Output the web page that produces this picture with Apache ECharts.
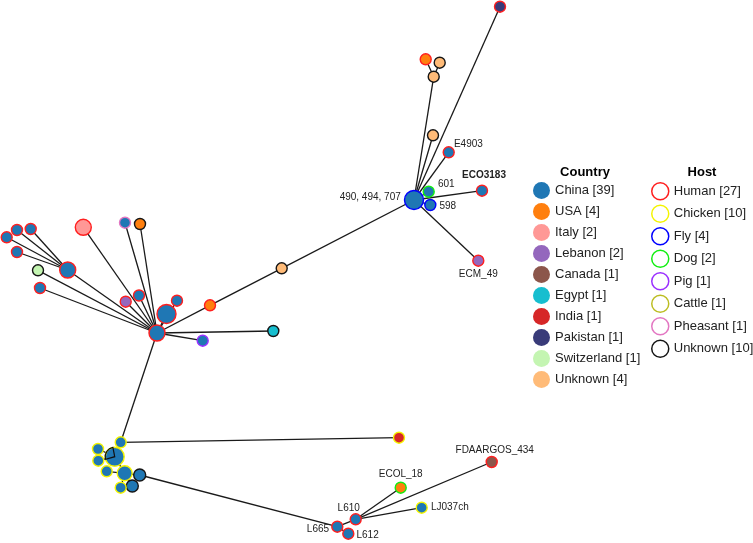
<!DOCTYPE html>
<html><head><meta charset="utf-8">
<script src="https://cdn.jsdelivr.net/npm/echarts@6/dist/echarts.min.js"></script>
<style>html,body{margin:0;padding:0;background:#fff}#c{width:753px;height:543px}</style>
</head><body><div id="c"></div>
<script>
// ---- data ----
const countryNames = ['China','USA','Italy','Lebanon','Canada','Egypt','India','Pakistan','Switzerland','Unknown'];
const countryCounts = [39,4,2,2,1,1,1,1,1,4];
const hostNames = ['Human','Chicken','Fly','Dog','Pig','Cattle','Pheasant','Unknown'];
const hostCounts = [27,10,4,2,1,1,1,10];

const nodeIds = ['n1','n2','n3','n4','n5','n6','n7','n8','n9','n10','n11','n12','n13','n14','n15','n16','n17','n18','n19','n20','n21','n22','n23','n24','n25','n26','n27','n28','n29','n30','n31','n32','n33','n34','n35','n36','n37','n38','n39','n40','n41','n42','n43','n44','n45','n46'];
const nodeX = [157,166.5,177,139,125.7,202.7,210,273.3,281.7,67.7,6.7,17,30.7,17,38,40,83.3,125,140,414,428.7,430.3,482,448.7,433,433.7,439.7,425.7,500,478.3,120.7,114.7,98,98.3,106.7,124.7,139.7,132.3,120.7,399,337.3,348.3,355.7,400.7,421.7,491.7];
const nodeY = [333,314,300.7,295.5,301.7,340.7,305.3,331,268.3,270,237.3,230,229,252,270.3,288,227.3,222.7,224,200,191.7,205,190.7,152.3,135.3,76.7,62.7,59.3,6.7,260.7,442.3,456.7,449,460.7,471.3,473.3,475,486,487.7,437.7,526.7,533.7,519.3,487.7,507.7,462];
const nodeCountry = ['China','China','China','China','Lebanon','China','USA','Egypt','Unknown','China','China','China','China','China','Switzerland','China','Italy','China','USA','China','China','China','China','China','Unknown','Unknown','Unknown','USA','Pakistan','Lebanon','China','China','China','China','China','China','China','China','China','India','China','China','China','USA','China','Canada'];
const nodeHost = ['Human','Human','Human','Human','Human','Pig','Human','Unknown','Unknown','Human','Human','Human','Human','Human','Unknown','Human','Human','Pheasant','Unknown','Fly','Dog','Fly','Human','Human','Unknown','Unknown','Unknown','Human','Human','Human','Chicken','Chicken','Chicken','Chicken','Chicken','Chicken','Unknown','Unknown','Chicken','Chicken','Human','Human','Human','Dog','Chicken','Human'];
const nodeLabel = ['','','','','','','','','','','','','','','','','','','','490, 494, 707','601','598','ECO3183','E4903','','','','','','ECM_49','','','','','','','','','','','L665','L612','L610','ECOL_18','LJ037ch','FDAARGOS_434'];
const edges = [
 ['n1','n2'],['n1','n3'],['n1','n4'],['n1','n5'],['n1','n6'],['n1','n7'],['n1','n8'],['n1','n10'],['n1','n15'],['n1','n16'],['n1','n17'],['n1','n18'],['n1','n19'],['n1','n31'],
 ['n10','n11'],['n10','n12'],['n10','n13'],['n10','n14'],
 ['n7','n9'],['n9','n20'],
 ['n20','n21'],['n20','n22'],['n20','n23'],['n20','n24'],['n20','n25'],['n20','n26'],['n20','n29'],['n20','n30'],
 ['n26','n27'],['n26','n28'],
 ['n31','n32'],['n31','n40'],['n32','n33'],['n32','n34'],['n32','n36'],['n36','n35'],['n36','n39'],['n36','n37'],['n36','n38'],['n37','n41'],
 ['n41','n42'],['n41','n43'],['n43','n44'],['n43','n45'],['n43','n46']
];

// ---- styles ----
const countryColors = {China:'#1f77b4',USA:'#ff7f0e',Italy:'#ff9896',Lebanon:'#9467bd',Canada:'#8c564b',Egypt:'#17becf',India:'#d62728',Pakistan:'#393b79',Switzerland:'#c4f5b2',Unknown:'#ffbb78'};
const hostColors = {Human:'#ff1f1f',Chicken:'#f4f400',Fly:'#0000ff',Dog:'#11ee11',Pig:'#9b30ff',Cattle:'#bcbd22',Pheasant:'#e377c2',Unknown:'#151515'};
const sizeMap = {n1:16,n2:19,n10:16,n17:16,n20:19,n32:19,n36:15,n37:12,n38:12};
const labelMap = {
 n20:{position:'left',distance:3,offset:[0,-3]},
 n21:{position:'right',distance:3,offset:[0,-7]},
 n22:{position:'right',distance:3,offset:[0,1]},
 n23:{position:'top',distance:4,fontWeight:'bold',offset:[2,0]},
 n24:{position:'right',distance:5,offset:[-6,-8]},
 n30:{position:'bottom',distance:2},
 n41:{position:'left',distance:2,offset:[0,3]},
 n42:{position:'right',distance:2,offset:[0,2]},
 n43:{position:'top',distance:0,offset:[-7,0]},
 n44:{position:'top',distance:2},
 n45:{position:'right',distance:3},
 n46:{position:'top',distance:1,offset:[3,0]}
};
const FONT = 'Liberation Sans, Arial, sans-serif';

const graphData = nodeIds.map((id,i)=>{
  const d = {
    name:id, value:[nodeX[i],nodeY[i]], symbol:'circle', symbolSize:sizeMap[id]||11,
    itemStyle:{color:countryColors[nodeCountry[i]], borderColor:hostColors[nodeHost[i]], borderWidth:1.4, opacity:1}
  };
  if (nodeLabel[i]) {
    const lm = labelMap[id]||{};
    d.label = Object.assign({show:true, formatter:nodeLabel[i], fontSize:10, color:'#222', fontFamily:FONT}, lm);
  }
  return d;
});
// wedge outline on the mixed-host node (n32)
const pieIdx = nodeIds.indexOf('n32');
graphData.push({
  name:'n32_wedge', value:[nodeX[pieIdx],nodeY[pieIdx]], symbolSize:19,
  symbol:'path://M0,0M100,100M50,50L40.5,0.9A50,50,0,0,0,1.9,63.8Z',
  itemStyle:{color:'rgba(0,0,0,0)', borderColor:'#111', borderWidth:1.2}
});

const series = [{
  type:'graph', coordinateSystem:'cartesian2d', silent:true,
  data:graphData,
  links:edges.map(e=>({source:e[0],target:e[1]})),
  lineStyle:{color:'#1a1a1a', width:1.3, opacity:1, curveness:0},
  emphasis:{disabled:true}, z:2
}];
countryNames.forEach((n,i)=>series.push({type:'scatter', name:n+' ['+countryCounts[i]+']', data:[], itemStyle:{color:countryColors[n], opacity:1}}));
hostNames.forEach((n,i)=>series.push({type:'scatter', name:n+' ['+hostCounts[i]+'] ', data:[], itemStyle:{color:'#fff', borderColor:hostColors[n], borderWidth:1.5, opacity:1}}));

const legendCommon = {orient:'vertical', top:182, itemWidth:17, itemHeight:17, itemGap:4, icon:'circle', selectedMode:false, padding:0,
  textStyle:{fontSize:13, color:'#222', fontFamily:FONT}};

const option = {
  animation:false,
  grid:{left:0,right:0,top:0,bottom:0},
  xAxis:{type:'value', min:0, max:753, show:false},
  yAxis:{type:'value', min:0, max:543, inverse:true, show:false},
  legend:[
    Object.assign({}, legendCommon, {left:533, data:countryNames.map((n,i)=>({name:n+' ['+countryCounts[i]+']', itemStyle:{color:countryColors[n], borderWidth:0, opacity:1}}))}),
    Object.assign({}, legendCommon, {left:651, data:hostNames.map((n,i)=>({name:n+' ['+hostCounts[i]+'] ', itemStyle:{color:'#fff', borderColor:hostColors[n], borderWidth:1.5, opacity:1}}))})
  ],
  graphic:[
    {type:'text', x:585, y:172, style:{text:'Country', font:'bold 13px '+FONT, fill:'#000', align:'center', verticalAlign:'middle'}},
    {type:'text', x:702, y:172, style:{text:'Host', font:'bold 13px '+FONT, fill:'#000', align:'center', verticalAlign:'middle'}}
  ],
  series:series
};
const chart = echarts.init(document.getElementById('c'), null, {renderer:'canvas'});
chart.setOption(option);
</script></body></html>
